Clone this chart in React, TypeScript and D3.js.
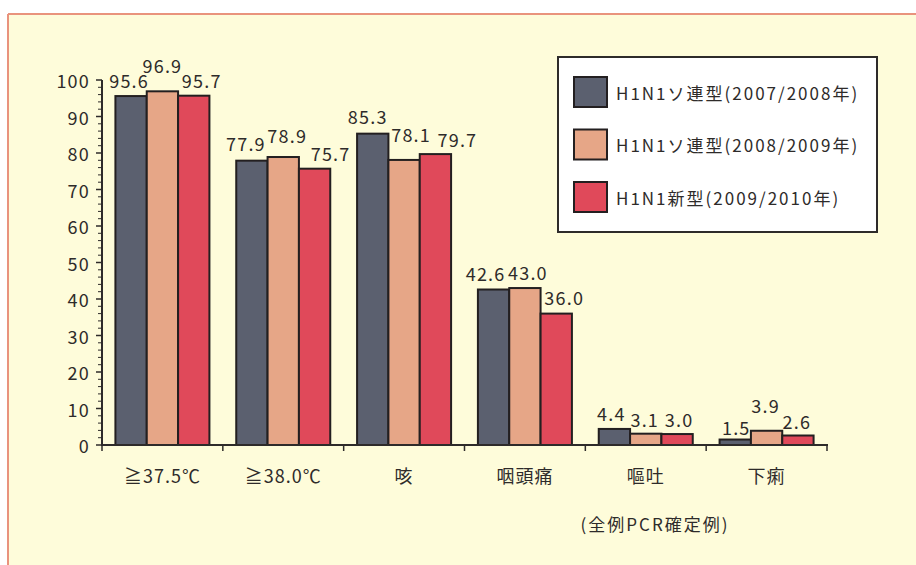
import React from "react";
import * as d3 from "d3";

// Symptom categories along the x axis
const categories = ["≧37.5℃", "≧38.0℃", "咳", "咽頭痛", "嘔吐", "下痢"];

// Series names (legend order)
const seriesNames = [
  "H1N1ソ連型(2007/2008年)",
  "H1N1ソ連型(2008/2009年)",
  "H1N1新型(2009/2010年)",
];

// Percentages per series, one value per category
const sovietA0708 = [95.6, 77.9, 85.3, 42.6, 4.4, 1.5];
const sovietA0809 = [96.9, 78.9, 78.1, 43.0, 3.1, 3.9];
const pandemic0910 = [95.7, 75.7, 79.7, 36.0, 3.0, 2.6];

const yTicks = [0, 10, 20, 30, 40, 50, 60, 70, 80, 90, 100];
const footnote = "(全例PCR確定例)";

const seriesValues = [sovietA0708, sovietA0809, pandemic0910];
const seriesColors = ["#5b606f", "#e6a687", "#e0495a"];

// Hand-placed label nudges [dx, dy] relative to bar centre / bar top,
// keeping neighbouring value labels from colliding.
const labelNudge: [number, number][][] = [
  [[-2, -16], [-6, -18], [-5, -18], [-8, -17], [-3, -16], [1, -13]],
  [[0, -26], [4, -22], [7, -26], [3, -16], [-1, -15], [-1, -26]],
  [[8, -16], [16, -16], [22, -15], [8, -17], [2, -15], [-1, -15]],
];

const W = 916;
const H = 565;
const FONT = "'Noto Sans CJK JP', 'Noto Sans', sans-serif";
const INK = "#2e2b2a";

export default function App() {
  const x = d3
    .scaleBand<string>()
    .domain(categories)
    .range([102, 827])
    .paddingInner(0.222)
    .paddingOuter(0.111);
  const xs = d3
    .scaleBand<number>()
    .domain(d3.range(seriesNames.length))
    .range([0, x.bandwidth()]);
  const y = d3.scaleLinear().domain([0, 100]).range([445, 80]);

  const step = x.step();
  const catEdges = d3.range(categories.length + 1).map((i) => 102 + i * step);
  const minorTicks = d3.range(0, 100.01, 2).filter((v) => v % 10 !== 0);

  const legendX = 558;
  const legendY = 57;

  return (
    <svg
      width={W}
      height={H}
      style={{ position: "absolute", left: 0, top: 0, background: "#ffffff" }}
      fontFamily={FONT}
    >
      {/* panel */}
      <rect x={8} y={14} width={W - 8} height={H - 14} fill="#fefcda" />
      <line x1={8} y1={14} x2={W} y2={14} stroke="#e9937d" strokeWidth={2} />
      <line x1={8} y1={14} x2={8} y2={H} stroke="#e9937d" strokeWidth={2} />

      {/* bars */}
      {seriesValues.map((vals, si) =>
        vals.map((v, ci) => {
          const bx = (x(categories[ci]) ?? 0) + (xs(si) ?? 0);
          return (
            <rect
              key={`b${si}-${ci}`}
              x={bx}
              y={y(v)}
              width={xs.bandwidth()}
              height={y(0) - y(v)}
              fill={seriesColors[si]}
              stroke="#231f20"
              strokeWidth={2}
            />
          );
        })
      )}

      {/* value labels */}
      {seriesValues.map((vals, si) =>
        vals.map((v, ci) => {
          const cx =
            (x(categories[ci]) ?? 0) + (xs(si) ?? 0) + xs.bandwidth() / 2;
          const [dx, dy] = labelNudge[si][ci];
          return (
            <text
              key={`l${si}-${ci}`}
              x={cx + dx}
              y={y(v) + dy}
              textAnchor="middle"
              dominantBaseline="central"
              fontSize={18}
              letterSpacing={1.2}
              fill={INK}
            >
              {v.toFixed(1)}
            </text>
          );
        })
      )}

      {/* y axis */}
      <line x1={102} y1={y(100)} x2={102} y2={y(0) + 1} stroke={INK} strokeWidth={2} />
      {minorTicks.map((t) => (
        <line key={`m${t}`} x1={98} x2={102} y1={y(t)} y2={y(t)} stroke={INK} strokeWidth={1} />
      ))}
      {yTicks.map((t) => (
        <g key={`t${t}`}>
          <line x1={96} x2={102} y1={y(t)} y2={y(t)} stroke={INK} strokeWidth={1.5} />
          <text
            x={90}
            y={y(t)}
            textAnchor="end"
            dominantBaseline="central"
            fontSize={18}
            letterSpacing={1.2}
            fill={INK}
          >
            {t}
          </text>
        </g>
      ))}

      {/* x axis */}
      <line x1={101} y1={y(0)} x2={828} y2={y(0)} stroke={INK} strokeWidth={2} />
      {catEdges.map((ex, i) => (
        <line key={`x${i}`} x1={ex} x2={ex} y1={y(0)} y2={y(0) + 6} stroke={INK} strokeWidth={1.5} />
      ))}
      {categories.map((c) => (
        <text
          key={c}
          x={(x(c) ?? 0) + x.bandwidth() / 2}
          y={475}
          textAnchor="middle"
          dominantBaseline="central"
          fontSize={18}
          letterSpacing={1}
          fill={INK}
        >
          {c}
        </text>
      ))}

      <text
        x={655}
        y={523}
        textAnchor="middle"
        dominantBaseline="central"
        fontSize={17}
        letterSpacing={2}
        fill={INK}
      >
        {footnote}
      </text>

      {/* legend */}
      <rect
        x={legendX}
        y={legendY}
        width={319}
        height={175}
        fill="#ffffff"
        stroke={INK}
        strokeWidth={2}
      />
      {seriesNames.map((name, i) => {
        const ry = legendY + 20 + i * 52.5;
        return (
          <g key={name}>
            <rect
              x={legendX + 16}
              y={ry}
              width={33}
              height={30}
              fill={seriesColors[i]}
              stroke="#231f20"
              strokeWidth={2}
            />
            <text
              x={legendX + 58}
              y={ry + 15}
              dominantBaseline="central"
              fontSize={17}
              letterSpacing={2}
              fill={INK}
            >
              {name}
            </text>
          </g>
        );
      })}
    </svg>
  );
}
